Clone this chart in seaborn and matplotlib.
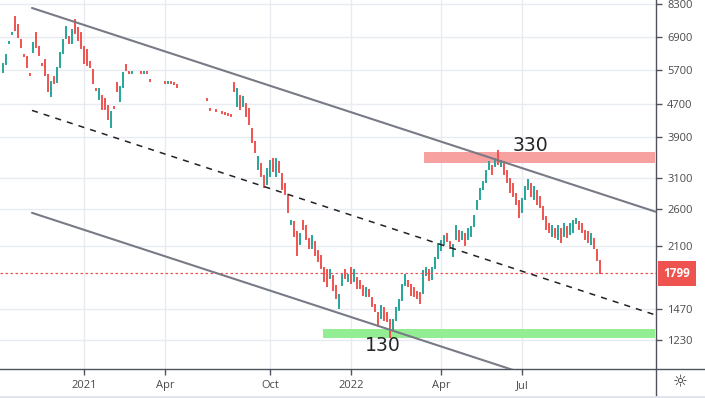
import numpy as np
import seaborn as sns
import matplotlib.pyplot as plt
from matplotlib.lines import Line2D
from matplotlib.ticker import NullLocator

# ==============================================================================
# DADOS (uma barra por posição)
# ==============================================================================
opens = [
    5650, 5900, 6650, 7000, 7720, 7387, 6784, 6240, 6164, 5570,
    6340, 7058, 6521, 5900, 6060, 5568, 4919, 5505, 5352, 5825,
    6305, 6861, 6900, 6670, 7597, 7264, 7058, 6521, 6412, 5992,
    5727, 5116, 4835, 4919, 4835, 4648, 4127, 4620, 5322, 4781,
    5174, 5891, 5650, 5630, 5645, 5635, 5640, 5630, 5640, 5400,
    5340, 5330, 5335, 5325, 5330, 5320, 5325, 5300, 5260, 5200,
    5190, 5195, 5010, 5190, 5185, 5190, 5180, 5185, 4850, 4580,
    4560, 4540, 4510, 4490, 4470, 4440, 4430, 5322, 4648, 4919,
    4648, 4701, 4569, 4081, 3792, 3256, 3349, 3129, 2991, 3129,
    3445, 3129, 3387, 3165, 2991, 2795, 2387, 2414, 2281, 2132,
    2428, 2360, 2193, 2073, 2156, 2038, 1982, 1851, 1831, 1750,
    1770, 1673, 1477, 1682, 1831, 1721, 1851, 1721, 1750, 1721,
    1673, 1581, 1635, 1563, 1503, 1436, 1396, 1477, 1436, 1380,
    1304, 1380, 1461, 1546, 1682, 1721, 1682, 1654, 1620, 1608,
    1608, 1780, 1830, 1740, 1851, 1959, 2050, 2132, 2256, 2156,
    1982, 2193, 2294, 2193, 2256, 2193, 2230, 2360, 2598, 2749,
    2908, 3025, 3256, 3311, 3311, 3600, 3311, 3387, 3219, 3077,
    2991, 2827, 2718, 2554, 2749, 2908, 2991, 2749, 2880, 2780,
    2627, 2484, 2387, 2230, 2320, 2193, 2320, 2230, 2347, 2256,
    2281, 2400, 2414, 2387, 2294, 2281, 2132, 2193, 2050, 1926,
]
closes = [
    5900, 6240, 6700, 7060, 7180, 6900, 6521, 6200, 5825, 5540,
    6670, 6521, 6234, 5870, 5568, 5058, 5352, 5322, 5792, 6305,
    6784, 7305, 6670, 7180, 7058, 6784, 6484, 5958, 5891, 5825,
    5322, 5090, 5116, 4569, 4569, 4318, 4493, 4600, 5058, 5174,
    5631, 5700, 5630, 5645, 5635, 5640, 5630, 5640, 5625, 5380,
    5330, 5335, 5325, 5330, 5320, 5325, 5310, 5270, 5200, 5190,
    5195, 5185, 5000, 5185, 5190, 5180, 5185, 5175, 4830, 4560,
    4565, 4520, 4500, 4480, 4450, 4420, 4410, 5058, 5116, 4569,
    4891, 4393, 4198, 3792, 3584, 3484, 3129, 2941, 3256, 3410,
    3219, 3445, 3201, 2908, 2827, 2554, 2428, 2230, 1993, 2256,
    2320, 2193, 2073, 2230, 1993, 1926, 1851, 1721, 1673, 1831,
    1635, 1563, 1590, 1780, 1750, 1780, 1701, 1831, 1654, 1654,
    1590, 1654, 1581, 1494, 1453, 1334, 1494, 1380, 1373, 1250,
    1380, 1477, 1546, 1682, 1780, 1673, 1590, 1581, 1563, 1520,
    1820, 1851, 1730, 1851, 1959, 2132, 2168, 2230, 2168, 2073,
    2108, 2360, 2168, 2281, 2108, 2320, 2347, 2498, 2718, 2908,
    3025, 3219, 3387, 3165, 3445, 3349, 3400, 3165, 3025, 2859,
    2795, 2672, 2484, 2749, 2941, 3050, 2795, 2941, 2672, 2627,
    2455, 2320, 2281, 2360, 2218, 2360, 2156, 2387, 2218, 2387,
    2428, 2455, 2320, 2281, 2193, 2156, 2256, 2073, 1937, 1799,
]

price_ticks = [1230, 1470, 2100, 2600, 3100, 3900, 4700, 5700, 6900, 8300]
date_ticks = [27, 54, 89, 116, 146, 173]          # índice da primeira barra do mês
date_labels = ["2021", "Apr", "Oct", "2022", "Apr", "Jul"]

# canal de baixa (índice inicial/final e preços nas pontas)
canal_x = [9.67, 217.67]
canal_sup = [8128, 2552]
canal_meio = [4542, 1419]
canal_inf = [2538, 797]

# zonas de resistência / suporte
zona_res_x = [140.3, 217.3]
zona_res = [3366, 3583]
zona_sup_x = [106.7, 217.3]
zona_sup = [1247, 1311]

VERDE = "#26a69a"
VERMELHO = "#ef5350"

# ==============================================================================
# FIGURA
# ==============================================================================
sns.set_style("white")
plt.rcParams["font.family"] = ["Open Sans", "DejaVu Sans"]

fig = plt.figure(figsize=(7.05, 3.98), dpi=100)
ax = fig.add_axes([0, 29 / 398, 656 / 705, 369 / 398])

ax.set_yscale("log")
ax.set_xlim(-1, 217.67)

# zonas
ax.fill_between(zona_res_x, zona_res[0], zona_res[1], color="#f7a1a1", lw=0, zorder=1)
ax.fill_between(zona_sup_x, zona_sup[0], zona_sup[1], color="#93ee93", lw=0, zorder=1)

# candles (só o corpo, como nos traços finos do TradingView)
idx = np.arange(len(closes))
o = np.array(opens)
c = np.array(closes)
cores = np.where(c >= o, VERDE, VERMELHO)
velas = ax.vlines(idx, np.minimum(o, c), np.maximum(o, c), colors=cores, lw=1.4, zorder=2)
velas.set_capstyle("projecting")  # barras quase planas ainda aparecem como pontos

# canal
sns.lineplot(x=canal_x, y=canal_sup, ax=ax, color="#787b86", lw=1.5, zorder=3)
sns.lineplot(x=canal_x, y=canal_inf, ax=ax, color="#787b86", lw=1.5, zorder=3)
sns.lineplot(x=canal_x, y=canal_meio, ax=ax, color="#222222", lw=1.1,
             dashes=False, zorder=3).lines[-1].set_dashes((4, 4))

# último preço
ultimo = closes[-1]
ax.axhline(ultimo, color=VERMELHO, lw=0.9, ls=(0, (2, 2)), zorder=2)
ax.annotate(f"{ultimo}", xy=(1, ultimo), xycoords=ax.get_yaxis_transform(),
            xytext=(5.5, 0), textcoords="offset points", ha="left", va="center",
            color="white", fontsize=8.5, fontweight="bold", annotation_clip=False,
            bbox=dict(boxstyle="square,pad=0.5", fc=VERMELHO, ec="none"))

# textos 330 / 130
ax.text(175.7, 3727, "330", fontsize=13.6, family="DejaVu Sans", ha="center", va="center", zorder=4)
ax.text(126.7, 1191, "130", fontsize=13.6, family="DejaVu Sans", ha="center", va="center", zorder=4)

# eixos
ax.yaxis.tick_right()
ax.yaxis.set_minor_locator(NullLocator())
ax.set_yticks(price_ticks)
ax.set_yticklabels([str(p) for p in price_ticks])
ax.set_ylim(1045, 8505)
ax.set_xticks(date_ticks)
ax.set_xticklabels(date_labels)
ax.tick_params(axis="both", length=4, width=1, color="#50535e", labelsize=8,
               labelcolor="#4a4a4a", pad=4)
ax.tick_params(axis="y", right=True, left=False)
ax.tick_params(axis="x", bottom=True)

ax.grid(True, color="#e8ebf0", lw=1)
ax.set_axisbelow(True)
for lado in ["top", "left"]:
    ax.spines[lado].set_visible(False)
for lado in ["right", "bottom"]:
    ax.spines[lado].set_color("#50535e")
    ax.spines[lado].set_linewidth(1)

# prolongamentos das linhas dos eixos e rodapé
fig.add_artist(Line2D([656 / 705, 1], [29 / 398, 29 / 398], color="#50535e", lw=1))
fig.add_artist(Line2D([656 / 705, 656 / 705], [0, 29 / 398], color="#50535e", lw=1))
fig.add_artist(Line2D([0, 1], [1.5 / 398, 1.5 / 398], color="#e0e3eb", lw=2))
fig.text(680 / 705, 1 - 382 / 398, "☼", family="DejaVu Sans", fontsize=12,
         ha="center", va="center", color="#333333")

plt.savefig("out.png", dpi=100)
